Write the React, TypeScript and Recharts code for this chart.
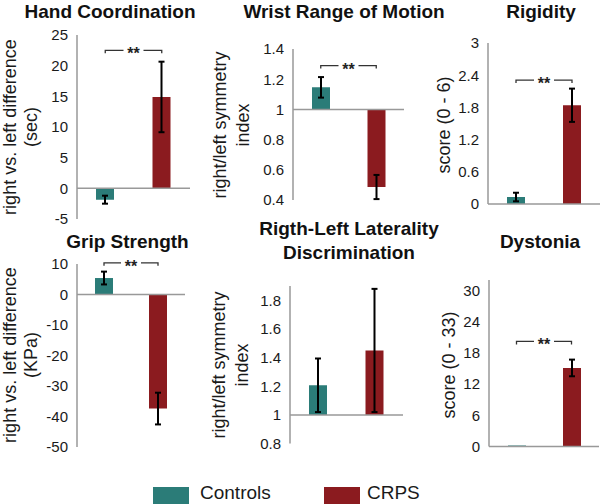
import React from 'react';
import { BarChart, Bar, Cell, XAxis, YAxis, ErrorBar, ReferenceLine } from 'recharts';

// groups + colours
const groups = ['Controls', 'CRPS'];
const groupColors = ['#2b7c78', '#8b1b1f'];

// means and error (sem) per measure
const handMeans = [-1.85, 14.9];
const handErr = [0.65, 5.75];
const wristMeans = [1.146, 0.486];
const wristErr = [0.068, 0.08];
const rigidMeans = [0.13, 1.84];
const rigidErr = [0.08, 0.31];
const gripMeans = [5.4, -37.4];
const gripErr = [2.1, 5.2];
const lateralMeans = [1.207, 1.45];
const lateralErr = [0.187, 0.43];
const dystMeans = [0.2, 15.1];
const dystErr = [0, 1.6];

// tick labels
const handTicks = [-5, 0, 5, 10, 15, 20, 25];
const wristTicks = [0.4, 0.6, 0.8, 1, 1.2, 1.4];
const rigidTicks = [0, 0.6, 1.2, 1.8, 2.4, 3];
const gripTicks = [-50, -40, -30, -20, -10, 0, 10];
const lateralTicks = [0.8, 1, 1.2, 1.4, 1.6, 1.8];
const dystTicks = [0, 6, 12, 18, 24, 30];

const FONT = '"Liberation Sans", Arial, sans-serif';
const AXIS = '#999';

// significance bracket drawn between the two bar centres
const Bracket = (props: any) => {
  const { x1, x2, y1 } = props;
  const mid = (x1 + x2) / 2;
  const gap = 10;
  return (
    <g>
      <path
        d={`M${x1},${y1 + 3}V${y1}H${mid - gap}M${mid + gap},${y1}H${x2}V${y1 + 3}`}
        stroke="#333"
        strokeWidth={1.3}
        fill="none"
      />
      <text x={mid} y={y1 + 9} textAnchor="middle" fontSize={16} fontWeight="bold" fill="#222" fontFamily={FONT}>
        **
      </text>
    </g>
  );
};

type PanelProps = {
  means: number[];
  errs: number[];
  base: number;
  domain: [number, number];
  ticks: number[];
  sig?: number;
  axisX: number;
  right: number;
  top: number;
  bottom: number;
};

const Panel: React.FC<PanelProps> = ({ means, errs, base, domain, ticks, sig, axisX, right, top, bottom }) => {
  const data = groups.map((name, i) => ({ name, value: [base, means[i]], err: errs[i] }));
  const w = 80 + (right - axisX) + 2;
  const h = bottom - top + 20;
  return (
    <div style={{ position: 'absolute', left: axisX - 80, top: top - 10 }}>
      <BarChart width={w} height={h} data={data} margin={{ top: 10, bottom: 10, left: 0, right: 2 }} barSize={18}>
        <XAxis dataKey="name" hide />
        <YAxis
          width={80}
          domain={domain}
          ticks={ticks}
          interval={0}
          allowDataOverflow
          axisLine={{ stroke: AXIS, strokeWidth: 1.5 }}
          tickLine={false}
          tickSize={0}
          tickMargin={9}
          tick={{ fill: '#1a1a1a', fontSize: 15, fontFamily: FONT }}
        />
        <Bar dataKey="value" isAnimationActive={false}>
          {data.map((d, i) => (
            <Cell key={d.name} fill={groupColors[i]} />
          ))}
          <ErrorBar dataKey="err" width={3} stroke="#000" strokeWidth={2} direction="y" />
        </Bar>
        <ReferenceLine y={base} stroke={AXIS} strokeWidth={1.5} ifOverflow="visible" />
        {sig !== undefined && (
          <ReferenceLine
            segment={[{ x: 'Controls', y: sig }, { x: 'CRPS', y: sig }]}
            ifOverflow="visible"
            shape={Bracket}
          />
        )}
      </BarChart>
    </div>
  );
};

const VLabel = ({ cy, lines }: { cy: number; lines: [string, number][] }) => (
  <g transform={`translate(0, ${cy}) rotate(-90)`}>
    {lines.map(([t, x]) => (
      <text key={t} x={0} y={x} textAnchor="middle" fontSize={18} fill="#1a1a1a" fontFamily={FONT}>
        {t}
      </text>
    ))}
  </g>
);

const Title = ({ x, y, children }: { x: number; y: number; children: string }) => (
  <text x={x} y={y} textAnchor="middle" fontSize={19} fontWeight="bold" fill="#111" fontFamily={FONT}>
    {children}
  </text>
);

export default function App() {
  return (
    <div style={{ position: 'absolute', left: 0, top: 0, width: 600, height: 504, background: '#fff', overflow: 'hidden', fontFamily: FONT }}>
      <Panel means={handMeans} errs={handErr} base={0} domain={[-5, 25]} ticks={handTicks} sig={22.5} axisX={77} right={190} top={35} bottom={219} />
      <Panel means={wristMeans} errs={wristErr} base={1} domain={[0.4, 1.4]} ticks={wristTicks} sig={1.29} axisX={293} right={404} top={49} bottom={200} />
      <Panel means={rigidMeans} errs={rigidErr} base={0} domain={[0, 3]} ticks={rigidTicks} sig={2.31} axisX={488} right={600} top={43} bottom={204} />
      <Panel means={gripMeans} errs={gripErr} base={0} domain={[-50, 10]} ticks={gripTicks} sig={10.4} axisX={77} right={185} top={264} bottom={447} />
      <Panel means={lateralMeans} errs={lateralErr} base={1} domain={[0.8, 1.9]} ticks={lateralTicks} axisX={290} right={403} top={285.7} bottom={443.3} />
      <Panel means={dystMeans} errs={dystErr} base={0} domain={[0, 32]} ticks={dystTicks} sig={20.2} axisX={489} right={599} top={279.5} bottom={446} />

      <svg width={600} height={504} style={{ position: 'absolute', left: 0, top: 0, pointerEvents: 'none' }}>
        <Title x={110} y={18}>Hand Coordination</Title>
        <Title x={344} y={18}>Wrist Range of Motion</Title>
        <Title x={541} y={18}>Rigidity</Title>
        <Title x={127.5} y={248}>Grip Strength</Title>
        <Title x={349} y={235}>Rigth-Left Laterality</Title>
        <Title x={349} y={259}>Discrimination</Title>
        <Title x={540} y={248}>Dystonia</Title>

        <VLabel cy={127} lines={[['right vs. left difference', 16], ['(sec)', 37]]} />
        <VLabel cy={125} lines={[['right/left symmetry', 226], ['index', 249]]} />
        <VLabel cy={125} lines={[['score (0 - 6)', 450]]} />
        <VLabel cy={355} lines={[['right vs. left difference', 16], ['(KPa)', 37]]} />
        <VLabel cy={365} lines={[['right/left symmetry', 225], ['index', 248]]} />
        <VLabel cy={365} lines={[['score (0 - 33)', 455]]} />

        <rect x={153} y={487} width={36} height={17} fill={groupColors[0]} />
        <text x={200} y={499} fontSize={19} fill="#1a1a1a" fontFamily={FONT}>{groups[0]}</text>
        <rect x={324} y={487} width={36} height={17} fill={groupColors[1]} />
        <text x={367} y={499} fontSize={19} fill="#1a1a1a" fontFamily={FONT}>{groups[1]}</text>
      </svg>
    </div>
  );
}
